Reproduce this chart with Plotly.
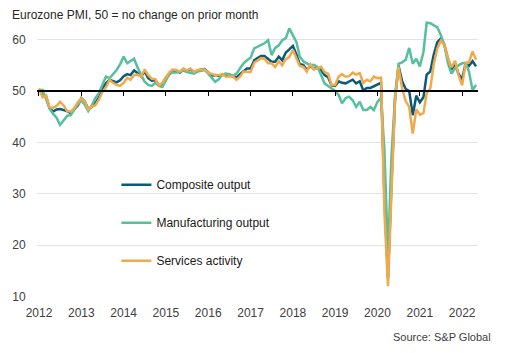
import pandas as pd
import plotly.graph_objects as go

# ---- data (monthly, Jan 2012 - May 2022) ----
start_month = "2012-01-01"

composite = [
    50.4, 49.3, 49.1, 46.7, 46.0, 46.4, 46.5, 46.3, 46.1, 45.7, 46.5, 47.2,
    48.6, 47.9, 46.5, 46.9, 47.7, 48.7, 50.5, 51.5, 52.2, 51.9, 51.7, 52.1,
    52.9, 53.3, 53.1, 54.0, 53.5, 52.8, 53.8, 52.5, 52.0, 52.1, 51.1, 51.4,
    52.6, 53.3, 54.0, 53.9, 53.6, 54.2, 53.9, 54.3, 53.6, 53.9, 54.2, 54.3,
    53.6, 53.0, 53.1, 53.0, 53.1, 53.1, 53.2, 52.9, 52.6, 53.3, 53.9, 54.4,
    54.4, 56.0, 56.4, 56.8, 56.8, 56.3, 55.7, 55.7, 56.7, 56.0, 57.5, 58.1,
    58.8, 57.1, 55.2, 55.1, 54.1, 54.9, 54.3, 54.5, 54.1, 53.1, 52.7, 51.1,
    51.0, 51.9, 51.6, 51.5, 51.8, 52.2, 51.5, 51.9, 50.1, 50.6, 50.6, 50.9,
    51.3, 51.6, 29.7, 13.6, 31.9, 48.5, 54.9, 51.9, 50.4, 50.0, 45.3, 49.1,
    47.8, 48.8, 53.2, 53.8, 57.1, 59.5, 60.2, 59.0, 56.2, 54.2, 55.4, 53.3,
    52.3, 55.5, 54.9, 55.8, 54.8,
]

manufacturing = [
    50.0, 50.2, 48.5, 46.6, 45.6, 44.8, 43.4, 44.4, 45.2, 45.3, 46.4, 47.4,
    48.2, 47.3, 46.1, 47.2, 48.6, 49.6, 51.2, 52.8, 52.5, 53.2, 54.1, 55.2,
    56.7, 55.4, 55.9, 56.3, 54.6, 53.0, 51.8, 51.2, 51.0, 51.6, 51.0, 50.8,
    52.2, 53.4, 53.6, 53.6, 53.8, 54.0, 53.7, 53.5, 53.4, 53.8, 54.0, 54.1,
    53.4, 52.5, 51.8, 52.3, 53.2, 53.4, 53.3, 52.9, 53.4, 54.4, 55.4, 56.0,
    56.5, 58.3, 58.6, 58.9, 59.3, 59.9, 57.0, 58.4, 58.9, 59.9, 60.3, 62.2,
    60.9, 59.5, 56.7, 55.8, 55.4, 55.0, 55.1, 54.7, 53.1, 51.5, 51.0, 50.5,
    50.0, 49.2, 47.6, 48.6, 48.9, 48.2, 46.9, 47.9, 46.3, 46.3, 46.9, 46.3,
    47.9, 48.7, 38.5, 18.1, 37.3, 49.0, 55.3, 55.6, 56.1, 58.4, 55.3, 56.3,
    54.8, 57.6, 63.3, 63.2, 62.8, 62.4, 60.9, 58.9, 55.4, 53.4, 54.4, 55.0,
    55.4, 55.5, 53.8, 50.2, 51.2,
]

services = [
    50.5, 48.8, 49.2, 46.9, 46.7, 47.1, 47.9, 47.2, 46.1, 46.0, 46.7, 47.8,
    48.6, 47.9, 46.4, 47.0, 47.2, 48.3, 49.8, 50.7, 52.2, 51.6, 51.2, 51.0,
    51.6, 52.6, 52.2, 53.1, 53.2, 52.8, 54.2, 53.1, 52.4, 52.3, 51.1, 51.6,
    52.7, 53.7, 54.2, 54.1, 53.8, 54.4, 54.0, 54.4, 53.7, 54.1, 54.2, 54.2,
    53.6, 53.3, 53.1, 53.1, 53.3, 52.8, 52.9, 52.8, 52.2, 52.8, 53.8, 53.7,
    53.7, 55.5, 56.0, 56.4, 56.3, 55.4, 55.4, 54.7, 55.8, 55.0, 56.2, 56.6,
    58.0, 56.2, 54.9, 54.7, 53.8, 55.2, 54.2, 54.4, 54.7, 53.7, 53.4, 51.2,
    51.2, 52.8, 53.3, 52.8, 52.9, 53.6, 53.2, 53.5, 51.6, 52.2, 51.9, 52.8,
    52.5, 52.6, 26.4, 12.0, 30.5, 48.3, 54.7, 50.5, 48.0, 46.9, 41.7, 46.4,
    45.4, 45.7, 49.6, 50.5, 55.2, 58.3, 59.8, 59.0, 56.4, 54.6, 55.9, 53.1,
    51.1, 55.5, 55.6, 57.7, 56.1,
]

series_names = ["Composite output", "Manufacturing output", "Services activity"]
series_colors = ["#0b5a7a", "#55bf9e", "#f0aa4c"]
title_text = "Eurozone PMI, 50 = no change on prior month"
source_text = "Source: S&P Global"
y_ticks = [10, 20, 30, 40, 50, 60]
no_change_level = 50

months = pd.date_range(start_month, periods=len(composite), freq="MS")

y_range = [9.9, 65]
x_range = ["2011-12-15", "2022-05-18"]
FONT = "Liberation Sans, Arial, sans-serif"

fig = go.Figure()
for name, vals, col in zip(series_names, [composite, manufacturing, services], series_colors):
    fig.add_trace(go.Scatter(
        x=months, y=vals, mode="lines", name=name, legendgroup=name,
        line=dict(color=col, width=2.5), hoverinfo="skip",
    ))

# helper trace to bind the 50-line axis
fig.add_trace(go.Scatter(x=[months[0]], y=[None], xaxis="x2", yaxis="y",
                         showlegend=False, hoverinfo="skip", mode="lines"))

pos50 = (no_change_level - y_range[0]) / (y_range[1] - y_range[0])

fig.update_layout(
    width=506, height=353, autosize=False,
    margin=dict(l=35, r=28, t=14, b=56),
    paper_bgcolor="white", plot_bgcolor="white",
    font=dict(family=FONT, size=12, color="#404040"),
    showlegend=True,
    legend=dict(
        x=0.18, y=0.448, xanchor="left", yanchor="top",
        bgcolor="rgba(0,0,0,0)", traceorder="grouped", tracegroupgap=19,
        font=dict(family=FONT, size=12, color="#1a1a1a"),
        itemwidth=30,
    ),
    title=dict(text=title_text, x=12 / 506, xanchor="left", xref="container",
               y=1 - 15 / 353, yanchor="middle", yref="container",
               font=dict(family=FONT, size=12, color="#262626")),
    xaxis=dict(
        type="date", range=x_range, tick0="2012-01-01", dtick="M12", tickformat="%Y",
        showgrid=False, showline=False, zeroline=False,
        ticks="outside", ticklen=5, tickcolor="rgba(0,0,0,0)",
        tickfont=dict(family=FONT, size=12, color="#404040"),
    ),
    xaxis2=dict(
        type="date", range=x_range, tick0="2012-01-01", dtick="M12",
        overlaying="x", anchor="free", position=pos50,
        showgrid=False, zeroline=False, showticklabels=False,
        showline=True, linecolor="black", linewidth=1.5,
        ticks="outside", ticklen=4, tickcolor="black", tickwidth=1.2,
    ),
    yaxis=dict(
        range=y_range, tickvals=y_ticks, showgrid=True, gridcolor="#e3e3e3", gridwidth=1,
        zeroline=False, showline=False,
        ticks="outside", ticklen=8, tickcolor="rgba(0,0,0,0)",
        tickfont=dict(family=FONT, size=12, color="#404040"),
    ),
    annotations=[dict(
        text=source_text, xref="paper", yref="paper",
        x=(493 - 35) / 443, y=(297 - 337) / 283, xanchor="right", yanchor="middle",
        showarrow=False, font=dict(family=FONT, size=11, color="#404040"),
    )],
)

fig.write_html("out.html")
